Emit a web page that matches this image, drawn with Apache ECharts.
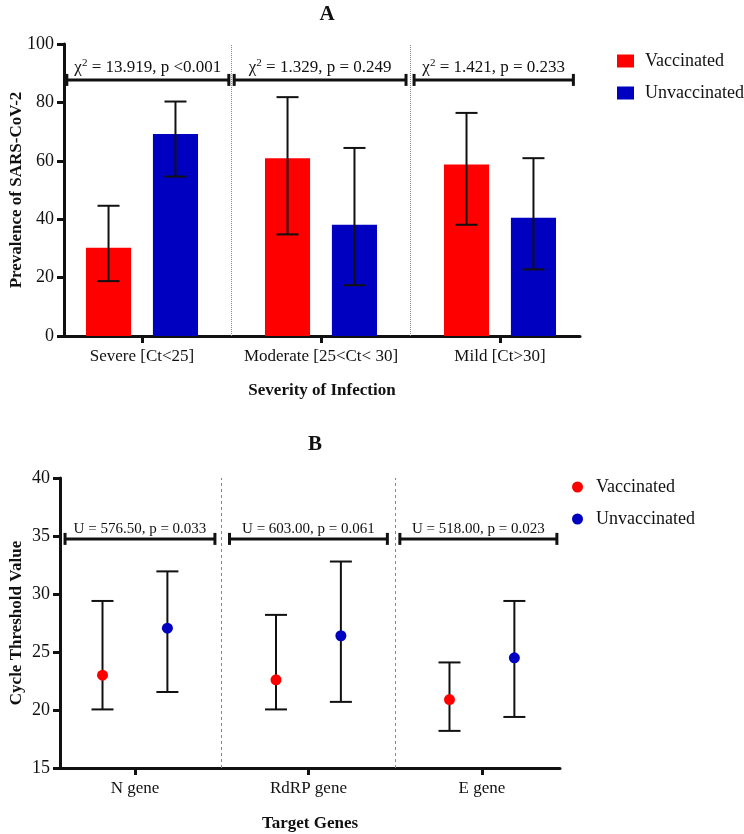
<!DOCTYPE html>
<html>
<head>
<meta charset="utf-8">
<script src="https://cdn.jsdelivr.net/npm/echarts@6/dist/echarts.min.js"></script>
<style>
    html, body { margin: 0; padding: 0; background: #fff; }
    #main { width: 744px; height: 834px; }
</style>
</head>
<body>
<div id="main"></div>
<script>
// panel A - prevalence by severity
var severity = ['Severe [Ct<25]', 'Moderate [25<Ct< 30]', 'Mild [Ct>30]'];
var vaccPrev = [30.2, 60.9, 58.7];
var vaccPrevLow = [18.8, 34.8, 38.1];
var vaccPrevHigh = [44.6, 81.8, 76.4];
var unvaccPrev = [69.2, 38.1, 40.5];
var unvaccPrevLow = [54.6, 17.4, 22.8];
var unvaccPrevHigh = [80.3, 64.4, 60.9];
var chiValues = ['13.919', '1.329', '1.421'];
var chiP = ['p <0.001', 'p = 0.249', 'p = 0.233'];

// panel B - Ct values by target gene
var genes = ['N gene', 'RdRP gene', 'E gene'];
var vaccCt = [23.0, 22.6, 20.9];
var vaccCtLow = [20.05, 20.05, 18.2];
var vaccCtHigh = [29.4, 28.2, 24.1];
var unvaccCt = [27.05, 26.4, 24.5];
var unvaccCtLow = [21.55, 20.7, 19.4];
var unvaccCtHigh = [31.95, 32.8, 29.4];
var uTests = ['U = 576.50, p = 0.033', 'U = 603.00, p = 0.061', 'U = 518.00, p = 0.023'];

var FONT = 'Liberation Serif';
var INK = '#111';
var RED = '#ff0000';
var BLUE = '#0000c0';
var GROUP_OFF = 0.187;   // half distance between the two groups, in category units
var BAR_W = 0.252;
var CAP_PX = 22;

// bracket ends per category (category units) and height (axis units)
var bracketA = { y: 87.7, spans: [[-0.42, 0.485], [-0.485, 0.475], [-0.48, 0.41]] };
var bracketB = { y: 34.75, spans: [[-0.403, 0.461], [-0.455, 0.455], [-0.473, 0.432]] };

function errorBarShapes(api, x, lo, hi) {
    var pLo = api.coord([x, lo]);
    var pHi = api.coord([x, hi]);
    var st = { stroke: INK, lineWidth: 2 };
    return [
        { type: 'line', shape: { x1: pLo[0], y1: pLo[1], x2: pHi[0], y2: pHi[1] }, style: st },
        { type: 'line', shape: { x1: pLo[0] - CAP_PX / 2, y1: pLo[1], x2: pLo[0] + CAP_PX / 2, y2: pLo[1] }, style: st },
        { type: 'line', shape: { x1: pHi[0] - CAP_PX / 2, y1: pHi[1], x2: pHi[0] + CAP_PX / 2, y2: pHi[1] }, style: st }
    ];
}

function barRenderer(offset) {
    return function (params, api) {
        var x = api.value(0) + offset;
        var top = api.coord([x, api.value(1)]);
        var base = api.coord([x, 0]);
        var w = api.size([BAR_W, 0])[0];
        var children = [{
            type: 'rect',
            shape: { x: top[0] - w / 2, y: top[1], width: w, height: base[1] - top[1] },
            style: { fill: api.visual('color') }
        }];
        return { type: 'group', children: children.concat(errorBarShapes(api, x, api.value(2), api.value(3))) };
    };
}

function errRenderer(offset) {
    return function (params, api) {
        var x = api.value(0) + offset;
        return { type: 'group', children: errorBarShapes(api, x, api.value(1), api.value(2)) };
    };
}

function bracketRenderer(cfg, textFn, rich) {
    return function (params, api) {
        var span = cfg.spans[params.dataIndex];
        var i = api.value(0);
        var a = api.coord([i + span[0], cfg.y]);
        var b = api.coord([i + span[1], cfg.y]);
        var st = { stroke: INK, lineWidth: 3 };
        return {
            type: 'group',
            children: [
                { type: 'line', shape: { x1: a[0], y1: a[1], x2: b[0], y2: b[1] }, style: st },
                { type: 'line', shape: { x1: a[0], y1: a[1] - 6, x2: a[0], y2: a[1] + 6 }, style: st },
                { type: 'line', shape: { x1: b[0], y1: b[1] - 6, x2: b[0], y2: b[1] + 6 }, style: st },
                {
                    type: 'text',
                    style: {
                        x: (a[0] + b[0]) / 2, y: a[1] - 2,
                        text: textFn(params.dataIndex),
                        align: 'center', verticalAlign: 'bottom',
                        fill: INK, fontFamily: FONT, fontSize: rich ? 17 : 15,
                        rich: rich
                    }
                }
            ]
        };
    };
}

function zip(n, cols) {
    var out = [];
    for (var i = 0; i < n; i++) {
        var row = [i];
        for (var c = 0; c < cols.length; c++) row.push(cols[c][i]);
        out.push(row);
    }
    return out;
}

function catAxis(gridIndex, labels, min, max, margin, name, gap) {
    return {
        type: 'value', gridIndex: gridIndex, min: min, max: max,
        name: name, nameLocation: 'middle', nameGap: gap, nameMoveOverlap: false,
        nameTextStyle: { fontFamily: FONT, fontWeight: 'bold', fontSize: 17, color: INK },
        axisLine: { onZero: false, lineStyle: { color: INK, width: 3 } },
        axisTick: { customValues: [0, 1, 2], length: 7, lineStyle: { color: INK, width: 3 } },
        axisLabel: {
            customValues: [0, 1, 2], margin: margin,
            fontFamily: FONT, fontSize: 17, color: INK,
            formatter: function (v) { return labels[Math.round(v)]; }
        },
        splitLine: { show: false }
    };
}

function valAxis(gridIndex, name, min, max, interval, gap) {
    return {
        type: 'value', gridIndex: gridIndex, min: min, max: max, interval: interval,
        name: name, nameLocation: 'middle', nameGap: gap, nameMoveOverlap: false,
        nameTextStyle: { fontFamily: FONT, fontWeight: 'bold', fontSize: 17, color: INK },
        axisLine: { show: true, onZero: false, lineStyle: { color: INK, width: 3 } },
        axisTick: { show: true, length: 7, lineStyle: { color: INK, width: 3 } },
        axisLabel: { margin: 10, fontFamily: FONT, fontSize: 18, color: INK },
        splitLine: { show: false }
    };
}

function dividers(style) {
    return {
        silent: true, symbol: 'none', label: { show: false },
        lineStyle: { color: '#888', width: 1, type: style },
        data: [{ xAxis: 0.5 }, { xAxis: 1.5 }]
    };
}

var chart = echarts.init(document.getElementById('main'));

var option = {
    backgroundColor: '#fff',
    animation: false,
    title: [
        { text: 'A', left: 322, top: -1, textAlign: 'center', textStyle: { fontFamily: FONT, fontWeight: 'bold', fontSize: 21, color: INK } },
        { text: 'B', left: 310, top: 429, textAlign: 'center', textStyle: { fontFamily: FONT, fontWeight: 'bold', fontSize: 21, color: INK } }
    ],
    legend: [
        {
            orient: 'vertical', left: 617, top: 52, padding: 0, itemGap: 14,
            itemWidth: 17, itemHeight: 13,
            data: [{ name: 'Vaccinated', icon: 'rect' }, { name: 'Unvaccinated', icon: 'rect' }],
            textStyle: { fontFamily: FONT, fontSize: 18, color: INK, padding: [0, 0, 0, 6] }
        },
        {
            orient: 'vertical', left: 572, top: 478, padding: 0, itemGap: 14,
            itemWidth: 11, itemHeight: 11,
            data: [{ name: 'Vaccinated', icon: 'circle' }, { name: 'Unvaccinated', icon: 'circle' }],
            textStyle: { fontFamily: FONT, fontSize: 18, color: INK, padding: [0, 0, 0, 8] }
        }
    ],
    grid: [
        { left: 64, right: 164, top: 44, bottom: 498, outerBoundsMode: 'none' },
        { left: 60, right: 184, top: 478, bottom: 66, outerBoundsMode: 'none' }
    ],
    xAxis: [
        catAxis(0, severity, -0.4358, 2.447, 12, 'Severity of Infection', 46),
        catAxis(1, genes, -0.432, 2.45, 12, 'Target Genes', 47)
    ],
    yAxis: [
        valAxis(0, 'Prevalence of SARS-CoV-2', 0, 100, 20, 39),
        valAxis(1, 'Cycle Threshold Value', 15, 40, 5, 35)
    ],
    series: [
        {
            name: 'Vaccinated', type: 'custom', xAxisIndex: 0, yAxisIndex: 0,
            itemStyle: { color: RED },
            renderItem: barRenderer(-GROUP_OFF),
            data: zip(3, [vaccPrev, vaccPrevLow, vaccPrevHigh]),
            markLine: dividers('dotted')
        },
        {
            name: 'Unvaccinated', type: 'custom', xAxisIndex: 0, yAxisIndex: 0,
            itemStyle: { color: BLUE },
            renderItem: barRenderer(GROUP_OFF),
            data: zip(3, [unvaccPrev, unvaccPrevLow, unvaccPrevHigh])
        },
        {
            type: 'custom', xAxisIndex: 0, yAxisIndex: 0, silent: true,
            renderItem: bracketRenderer(bracketA, function (i) {
                return '{t|χ}{s|2}{t| = ' + chiValues[i] + ', ' + chiP[i] + '}';
            }, {
                t: { fontFamily: FONT, fontSize: 17, color: INK, lineHeight: 20 },
                s: { fontFamily: FONT, fontSize: 11, color: INK, verticalAlign: 'top', lineHeight: 14 }
            }),
            data: [[0], [1], [2]]
        },
        {
            type: 'custom', xAxisIndex: 1, yAxisIndex: 1, silent: true,
            renderItem: errRenderer(-GROUP_OFF),
            data: zip(3, [vaccCtLow, vaccCtHigh]),
            markLine: dividers([3, 3])
        },
        {
            type: 'custom', xAxisIndex: 1, yAxisIndex: 1, silent: true,
            renderItem: errRenderer(GROUP_OFF),
            data: zip(3, [unvaccCtLow, unvaccCtHigh])
        },
        {
            name: 'Vaccinated', type: 'scatter', xAxisIndex: 1, yAxisIndex: 1, z: 5,
            symbolSize: 11, itemStyle: { color: RED, opacity: 1 },
            data: vaccCt.map(function (v, i) { return [i - GROUP_OFF, v]; })
        },
        {
            name: 'Unvaccinated', type: 'scatter', xAxisIndex: 1, yAxisIndex: 1, z: 5,
            symbolSize: 11, itemStyle: { color: BLUE, opacity: 1 },
            data: unvaccCt.map(function (v, i) { return [i + GROUP_OFF, v]; })
        },
        {
            type: 'custom', xAxisIndex: 1, yAxisIndex: 1, silent: true,
            renderItem: bracketRenderer(bracketB, function (i) { return uTests[i]; }, null),
            data: [[0], [1], [2]]
        }
    ]
};

chart.setOption(option);
</script>
</body>
</html>
